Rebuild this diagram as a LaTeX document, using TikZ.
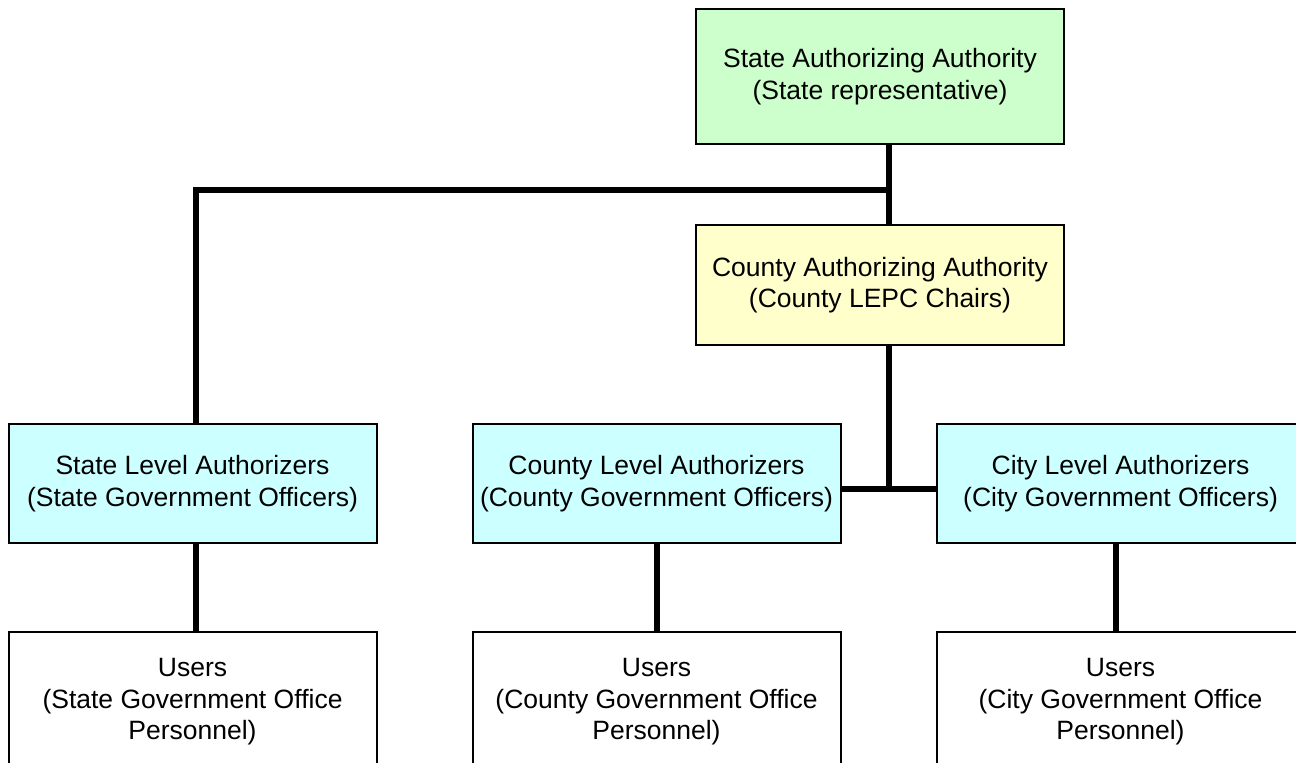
\documentclass[tikz,border=0pt]{standalone}
\usepackage{fontspec}
\setmainfont{Liberation Sans}
\definecolor{greenfill}{HTML}{CCFFCC}
\definecolor{yellowfill}{HTML}{FFFFCC}
\definecolor{cyanfill}{HTML}{CCFFFF}
\begin{document}
\begin{tikzpicture}[x=1pt,y=-1pt,
  box/.style={draw=black, line width=2pt, inner sep=0pt, outer sep=0pt,
    minimum width=368pt, align=center, font=\fontsize{26.5}{31.5}\selectfont},
  authbox/.style={box, fill=cyanfill, minimum height=119pt},
  userbox/.style={box, fill=white, minimum height=140pt},
  link/.style={line width=6pt}]
\useasboundingbox (0,0) rectangle (1296,763);
\clip (0,0) rectangle (1296,763);
\node[box, fill=greenfill, minimum height=135pt] (saa) at (880,76.5)
  {State Authorizing Authority\\(State representative)};
\node[box, fill=yellowfill, minimum height=120pt] (caa) at (880,285)
  {County Authorizing Authority\\(County LEPC Chairs)};
\node[authbox] (sla) at (192.5,483.5)
  {State Level Authorizers\\(State Government Officers)};
\node[authbox] (cla) at (656.5,483.5)
  {County Level Authorizers\\(County Government Officers)};
\node[authbox] (cila) at (1120.5,483.5)
  {City Level Authorizers\\(City Government Officers)};
\node[userbox] (su) at (192.5,702)
  {Users\\(State Government Office\\Personnel)};
\node[userbox] (cu) at (656.5,702)
  {Users\\(County Government Office\\Personnel)};
\node[userbox] (ciu) at (1120.5,702)
  {Users\\(City Government Office\\Personnel)};
\coordinate (j1) at (889,190);
\coordinate (j2) at (889,489);
\draw[link] ([xshift=9pt]saa.south) -- ([xshift=9pt]caa.north);
\draw[link] (j1) -| ([xshift=3pt]sla.north);
\draw[link] ([xshift=9pt]caa.south) -- (j2);
\draw[link] (cla.east |- j2) -- (cila.west |- j2);
\draw[link] ([xshift=3pt]sla.south) -- ([xshift=3pt]su.north);
\draw[link] (cla.south) -- (cu.north);
\draw[link] ([xshift=-4.5pt]cila.south) -- ([xshift=-4.5pt]ciu.north);
\end{tikzpicture}
\end{document}
